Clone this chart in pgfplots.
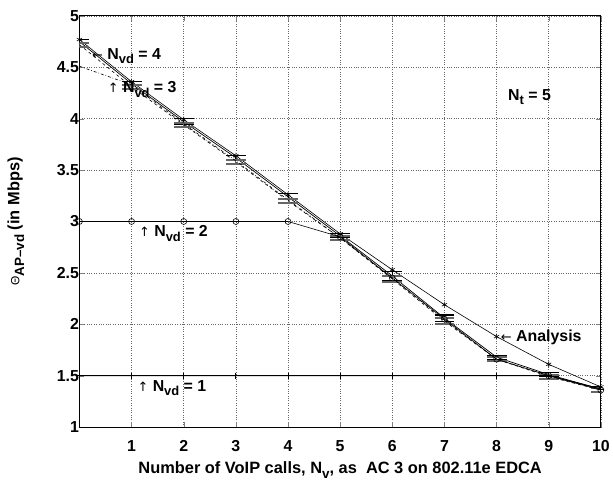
\documentclass[border=0pt]{standalone}
\usepackage{fontspec}
\setmainfont{Liberation Sans}
\newfontfamily\arr{DejaVu Sans}
\usepackage{pgfplots}
\pgfplotsset{compat=1.18}

\newcommand{\Nvd}[1]{N\raisebox{-0.55ex}{\fontsize{13}{13}\selectfont vd}\ =\ #1}
\newcommand{\up}{{\arr\mdseries\fontsize{13}{13}\selectfont ↑}}
\newcommand{\lft}{{\arr\mdseries\fontsize{13}{13}\selectfont ←}}

\begin{document}
\begin{tikzpicture}
\begin{axis}[
  scale only axis, width=525pt, height=414pt,
  xmin=0, xmax=10, ymin=1, ymax=5,
  xtick={1,...,10}, ytick={1,1.5,...,5},
  grid=major, grid style={dotted, black!60, line width=0.6pt},
  tick align=inside, major tick length=5pt,
  axis line style={line width=1pt},
  tick label style={font=\fontsize{16}{18}\selectfont\bfseries},
  xticklabel style={yshift=-10pt},
  yticklabel style={xshift=3pt},
  /pgf/number format/assume math mode=true,
  label style={font=\fontsize{16.5}{18}\selectfont\bfseries},
  xlabel={Number of VoIP calls, N\raisebox{-0.55ex}{\fontsize{13.5}{13}\selectfont v}, as\ \ AC 3 on 802.11e EDCA},
  ylabel={{\fontsize{12}{12}\selectfont\mdseries Θ}\raisebox{-0.55ex}{\fontsize{13.5}{13}\selectfont AP--vd} (in Mbps)},
  xlabel style={yshift=-3pt},
  ylabel style={yshift=26pt},
  error bars/y dir=both, error bars/y explicit,
  error bars/error mark options={rotate=90, mark size=10pt, line width=1.1pt},
  error bars/error bar style={line width=0.8pt},
]
% analysis, N_vd = 4
\addplot[black, line width=0.6pt, mark=asterisk, mark size=3pt, error bars/y dir=none] coordinates {
  (0,4.77) (1,4.36) (2,3.99) (3,3.64) (4,3.26) (5,2.88) (6,2.53) (7,2.19) (8,1.88) (9,1.61) (10,1.39)};
% simulation, N_vd = 4
\addplot[black, line width=0.7pt, mark=none] coordinates {
  (0,4.75) +- (0,0.02) (1,4.34) +- (0,0.02) (2,3.97) +- (0,0.03) (3,3.62) +- (0,0.02)
  (4,3.24) +- (0,0.03) (5,2.86) +- (0,0.02) (6,2.47) +- (0,0.04) (7,2.06) +- (0,0.03)
  (8,1.68) +- (0,0.02) (9,1.51) +- (0,0.02) (10,1.37) +- (0,0.02)};
% simulation, N_vd = 3
\addplot[black, line width=0.6pt, dashed, mark=none, error bars/error bar style={black!60, line width=0.8pt}, error bars/error mark options={rotate=90, black!60, mark size=10pt, line width=1.8pt}] coordinates {
  (0,4.72) +- (0,0.02) (1,4.31) +- (0,0.02) (2,3.94) +- (0,0.02) (3,3.58) +- (0,0.02)
  (4,3.20) +- (0,0.02) (5,2.84) +- (0,0.02) (6,2.44) +- (0,0.03) (7,2.03) +- (0,0.03)
  (8,1.66) +- (0,0.02) (9,1.49) +- (0,0.02) (10,1.36) +- (0,0.02)};
% N_vd = 3, dash-dot
\addplot[black, line width=0.6pt, dashdotted, mark=none, error bars/y dir=none] coordinates {
  (0,4.51) (1,4.33) (2,3.95) (3,3.59) (4,3.21) (5,2.84) (6,2.45) (7,2.04) (8,1.66) (9,1.50) (10,1.36)};
% N_vd = 2
\addplot[black, line width=0.6pt, mark=o, mark size=3pt, error bars/y dir=none] coordinates {
  (0,3.00) (1,3.00) (2,3.00) (3,3.00) (4,3.00) (5,2.85) (6,2.45) (7,2.05) (8,1.66) (9,1.50) (10,1.36)};
% N_vd = 1
\addplot[black, line width=1pt, mark=+, mark size=3pt, error bars/y dir=none] coordinates {
  (0,1.50) (1,1.50) (2,1.50) (3,1.50) (4,1.50) (5,1.50) (6,1.50) (7,1.50) (8,1.50) (9,1.50) (10,1.37)};

\begin{scope}[every node/.style={font=\fontsize{16}{16}\selectfont\bfseries, anchor=base west, inner sep=0pt}]
\node at (axis cs:0.24,4.58) {\lft\ \Nvd{4}};
\node at (axis cs:0.54,4.25) {\up\ \Nvd{3}};
\node at (axis cs:1.14,2.85) {\up\ \Nvd{2}};
\node at (axis cs:1.11,1.35) {\up\ \Nvd{1}};
\node at (axis cs:8.22,4.18) {N\raisebox{-0.55ex}{\fontsize{13}{13}\selectfont t}\ =\ 5};
\node at (axis cs:8.08,1.83) {\lft\ Analysis};
\end{scope}
\end{axis}
\path (current axis.north west) ++(-60pt,16pt) coordinate (tl);
\path (current axis.south west) ++(-80pt,-50pt) coordinate (bl);
\end{tikzpicture}
\end{document}
